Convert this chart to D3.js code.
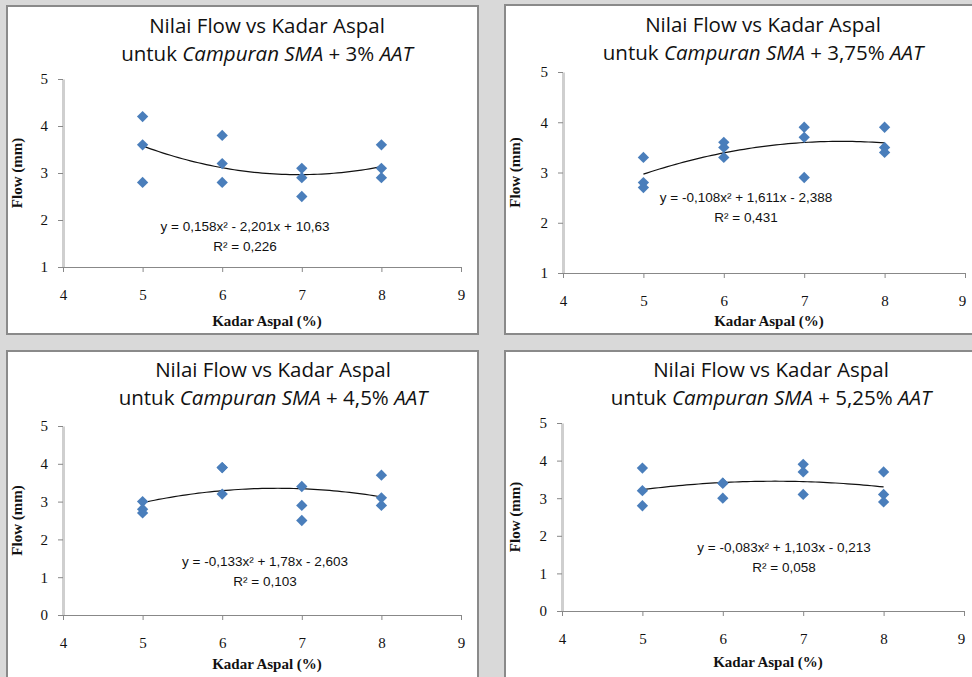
<!DOCTYPE html>
<html>
<head>
<meta charset="utf-8">
<script src="https://cdn.jsdelivr.net/npm/d3@7"></script>
<style>
  body { margin: 0; background: #d9d9d9; }
  svg { display: block; }
</style>
</head>
<body>
<div id="chart"></div>
<script>
/*============================
==DATA =======================*/
var kadarAspal = [5, 5, 5, 6, 6, 6, 7, 7, 7, 8, 8, 8];

var flow3   = [4.2, 3.6, 2.8, 3.8, 3.2, 2.8, 3.1, 2.9, 2.5, 3.6, 3.1, 2.9];
var flow375 = [3.3, 2.8, 2.7, 3.6, 3.5, 3.3, 3.9, 3.7, 2.9, 3.9, 3.5, 3.4];
var flow45  = [3.0, 2.8, 2.7, 3.9, 3.9, 3.2, 3.4, 2.9, 2.5, 3.7, 3.1, 2.9];
var flow525 = [3.8, 3.2, 2.8, 3.4, 3.4, 3.0, 3.9, 3.7, 3.1, 3.7, 3.1, 2.9];

// quadratic trend coefficients [a, b, c] for y = a x^2 + b x + c
var trend3   = [0.158, -2.201, 10.63];
var trend375 = [-0.108, 1.611, -2.388];
var trend45  = [-0.133, 1.78, -2.603];
var trend525 = [-0.083, 1.103, -0.213];

var eqLabels = [
  "y = 0,158x² - 2,201x + 10,63",
  "y = -0,108x² + 1,611x - 2,388",
  "y = -0,133x² + 1,78x - 2,603",
  "y = -0,083x² + 1,103x - 0,213"
];
var r2Labels = ["R² = 0,226", "R² = 0,431", "R² = 0,103", "R² = 0,058"];
var aatLabels = ["3%", "3,75%", "4,5%", "5,25%"];

var xTicks = [4, 5, 6, 7, 8, 9];
var yTicksA = [1, 2, 3, 4, 5];
var yTicksB = [0, 1, 2, 3, 4, 5];

/*============================
==LAYOUT =====================*/
var svgWidth = 972, svgHeight = 677;

var panels = [
  { flow: flow3, trend: trend3, yTicks: yTicksA,
    box: [7, 6, 471, 328], plot: [63, 79, 461, 267],
    titleX: 267, titleY: [33, 61], eqX: 245, eqY: [231, 251], yLabX: 22, xLabY: 326 },
  { flow: flow375, trend: trend375, yTicks: yTicksA,
    box: [505, 5, 480, 329], plot: [563, 72, 965, 273],
    titleX: 763, titleY: [32, 60], eqX: 746, eqY: [202, 222], yLabX: 520, xLabY: 326 },
  { flow: flow45, trend: trend45, yTicks: yTicksB,
    box: [7, 351, 471, 340], plot: [63, 426, 461, 615],
    titleX: 273, titleY: [377, 405], eqX: 265, eqY: [566, 586], yLabX: 22, xLabY: 669 },
  { flow: flow525, trend: trend525, yTicks: yTicksB,
    box: [505, 351, 480, 340], plot: [562, 423, 964, 611],
    titleX: 771, titleY: [377, 405], eqX: 784, eqY: [552, 572], yLabX: 520, xLabY: 667 }
];

var svg = d3.select("#chart")
  .append("svg")
  .attr("width", svgWidth)
  .attr("height", svgHeight);

// square turned 45 degrees, like the excel diamond marker
var diamond = d3.symbol().type(d3.symbolSquare).size(64);

panels.forEach(function(p, i) {
  var g = svg.append("g");

  // panel frame
  g.append("rect")
    .attr("x", p.box[0]).attr("y", p.box[1])
    .attr("width", p.box[2]).attr("height", p.box[3])
    .attr("fill", "#fff")
    .attr("stroke", "#8a8a8a")
    .attr("stroke-width", 2);

  var xScale = d3.scaleLinear().domain([4, 9]).range([p.plot[0], p.plot[2]]);
  var yScale = d3.scaleLinear().domain([p.yTicks[0], 5]).range([p.plot[3], p.plot[1]]);

  // y axis
  var yAxis = g.append("g")
    .attr("transform", `translate(${p.plot[0]},0)`)
    .call(d3.axisLeft(yScale).tickValues(p.yTicks).tickFormat(d3.format("d"))
      .tickSize(5).tickSizeOuter(0).tickPadding(10));
  yAxis.select(".domain").attr("stroke", "#cfcfcf").attr("stroke-width", 3);
  yAxis.selectAll(".tick line").attr("stroke", "#888");
  yAxis.selectAll("text")
    .attr("font-family", "Liberation Serif")
    .attr("font-size", 15)
    .attr("fill", "#111");

  // x axis
  var xAxis = g.append("g")
    .attr("transform", `translate(0,${p.plot[3]})`)
    .call(d3.axisBottom(xScale).tickValues(xTicks).tickFormat(d3.format("d"))
      .tickSize(5).tickSizeOuter(0).tickPadding(17));
  xAxis.select(".domain").attr("stroke", "#888");
  xAxis.selectAll(".tick line").attr("stroke", "#888");
  xAxis.selectAll("text")
    .attr("font-family", "Liberation Serif")
    .attr("font-size", 15)
    .attr("fill", "#111");
  if (p.plot[2] > 900) {
    xAxis.selectAll("text").filter(function(d) { return d === 9; }).attr("dx", -3);
  }

  // trend line
  var t = p.trend;
  var line = d3.line()
    .x(function(x) { return xScale(x); })
    .y(function(x) { return yScale(t[0] * x * x + t[1] * x + t[2]); });
  g.append("path")
    .datum(d3.range(5, 8.0001, 0.05))
    .attr("d", line)
    .attr("fill", "none")
    .attr("stroke", "#111")
    .attr("stroke-width", 1.2);

  // points
  g.selectAll(".pt")
    .data(p.flow)
    .enter()
    .append("path")
    .attr("class", "pt")
    .attr("d", diamond)
    .attr("transform", function(d, j) {
      return `translate(${xScale(kadarAspal[j])},${yScale(d)}) rotate(45)`;
    })
    .attr("fill", "#4a7ebb");

  // title
  var title = g.append("text")
    .attr("text-anchor", "middle")
    .attr("font-family", "Open Sans")
    .attr("font-size", 20.5)
    .attr("fill", "#111");
  title.append("tspan").attr("x", p.titleX).attr("y", p.titleY[0]).text("Nilai Flow vs Kadar Aspal");
  var l2 = title.append("tspan").attr("x", p.titleX).attr("y", p.titleY[1]);
  l2.append("tspan").text("untuk ");
  l2.append("tspan").attr("font-style", "italic").text("Campuran SMA");
  l2.append("tspan").text(" + " + aatLabels[i] + " ");
  l2.append("tspan").attr("font-style", "italic").text("AAT");

  // equation
  g.append("text")
    .attr("x", p.eqX).attr("y", p.eqY[0])
    .attr("text-anchor", "middle")
    .attr("font-family", "Liberation Sans")
    .attr("font-size", 13.5)
    .attr("fill", "#111")
    .text(eqLabels[i]);
  g.append("text")
    .attr("x", p.eqX).attr("y", p.eqY[1])
    .attr("text-anchor", "middle")
    .attr("font-family", "Liberation Sans")
    .attr("font-size", 13.5)
    .attr("fill", "#111")
    .text(r2Labels[i]);

  // axis labels
  g.append("text")
    .attr("transform", `translate(${p.yLabX},${(p.plot[1] + p.plot[3]) / 2}) rotate(-90)`)
    .attr("text-anchor", "middle")
    .attr("font-family", "Liberation Serif")
    .attr("font-weight", "bold")
    .attr("font-size", 15)
    .attr("fill", "#111")
    .text("Flow (mm)");
  g.append("text")
    .attr("x", (p.plot[0] + p.plot[2]) / 2 + 5)
    .attr("y", p.xLabY)
    .attr("text-anchor", "middle")
    .attr("font-family", "Liberation Serif")
    .attr("font-weight", "bold")
    .attr("font-size", 15)
    .attr("fill", "#111")
    .text("Kadar Aspal (%)");
});
</script>
</body>
</html>
